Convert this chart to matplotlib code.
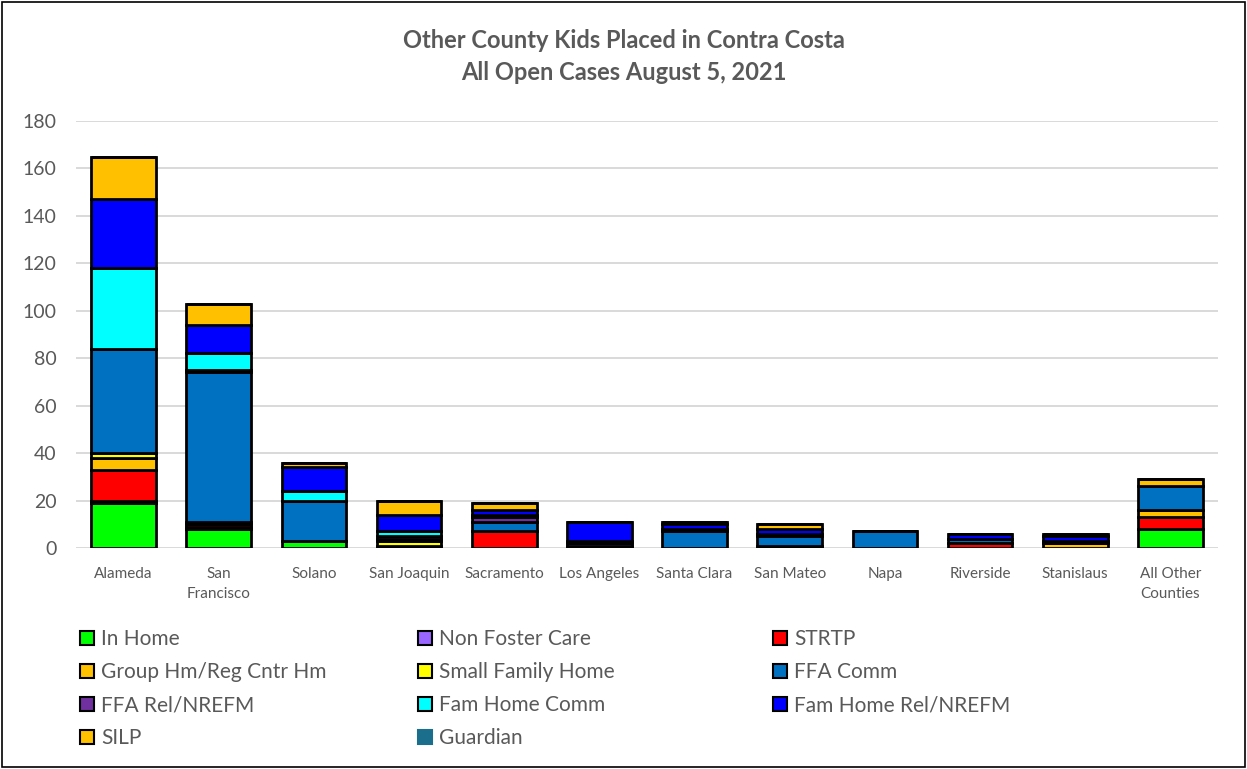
import numpy as np
import matplotlib
matplotlib.use("Agg")
import matplotlib.pyplot as plt
from matplotlib.patches import Rectangle, Patch

plt.rcParams["font.family"] = ["Lato", "DejaVu Sans"]

counties = ["Alameda", "San\nFrancisco", "Solano", "San Joaquin", "Sacramento",
            "Los Angeles", "Santa Clara", "San Mateo", "Napa", "Riverside",
            "Stanislaus", "All Other\nCounties"]

# one list per placement type, values per county (left to right)
in_home        = [19,  8,  3, 0, 0, 1, 0, 0, 0, 0, 0, 8]
non_foster     = [ 1,  1,  0, 0, 0, 1, 0, 1, 0, 0, 0, 0]
strtp          = [13,  1,  0, 1, 7, 0, 0, 0, 0, 2, 0, 5]
group_hm       = [ 5,  0,  0, 0, 0, 0, 0, 0, 0, 0, 2, 3]
small_family   = [ 2,  1,  0, 2, 0, 0, 0, 0, 0, 0, 0, 0]
ffa_comm       = [44, 63, 17, 1, 4, 0, 7, 4, 7, 2, 0, 10]
ffa_rel        = [ 0,  1,  0, 1, 2, 1, 1, 1, 0, 0, 1, 0]
fam_home_comm  = [34,  7,  4, 2, 1, 0, 0, 0, 0, 0, 0, 0]
fam_home_rel   = [29, 12, 10, 7, 2, 8, 2, 2, 0, 2, 2, 0]
silp           = [18,  9,  2, 6, 3, 0, 1, 2, 0, 0, 1, 3]
guardian       = [ 0,  0,  0, 0, 0, 0, 0, 0, 0, 0, 0, 0]

series_names = ["In Home", "Non Foster Care", "STRTP", "Group Hm/Reg Cntr Hm",
                "Small Family Home", "FFA Comm", "FFA Rel/NREFM", "Fam Home Comm",
                "Fam Home Rel/NREFM", "SILP", "Guardian"]
series_values = [in_home, non_foster, strtp, group_hm, small_family, ffa_comm,
                 ffa_rel, fam_home_comm, fam_home_rel, silp, guardian]
series_colors = ["#00FF00", "#9966FF", "#FF0000", "#FFC000", "#FFFF00", "#0070C0",
                 "#7030A0", "#00FFFF", "#0000FF", "#FFC000", "#1B6E8C"]

TXT = "#595959"

fig = plt.figure(figsize=(12.47, 7.69), dpi=100)
ax = fig.add_axes([76 / 1247, 1 - 548 / 769, (1218 - 76) / 1247, (548 - 121) / 769])

x = np.arange(len(counties))
bottom = np.zeros(len(counties))
for name, vals, col in zip(series_names, series_values, series_colors):
    v = np.array(vals, dtype=float)
    ax.bar(x, v, 0.68, bottom=bottom, color=col, edgecolor="black",
           linewidth=2.0, zorder=3)
    bottom += v

ax.set_xlim(-0.5, len(counties) - 0.5)
ax.set_ylim(0, 180)
ax.set_yticks(np.arange(0, 181, 20))
ax.yaxis.grid(True, color="#D9D9D9", linewidth=1.4, zorder=0)
ax.set_axisbelow(True)
for s in ax.spines.values():
    s.set_visible(False)
ax.tick_params(axis="both", length=0, colors=TXT)
ax.tick_params(axis="y", labelsize=14, pad=14)
ax.tick_params(axis="x", labelsize=11, pad=14)
ax.set_xticks(x)
ax.set_xticklabels(counties, linespacing=1.55)

fig.text(0.5, 1 - 41 / 769, "Other County Kids Placed in Contra Costa",
         ha="center", va="center", fontsize=17, fontweight="bold", color=TXT)
fig.text(0.5, 1 - 72 / 769, "All Open Cases August 5, 2021",
         ha="center", va="center", fontsize=17, fontweight="bold", color=TXT)

# legend laid out row by row in three columns, like the original
handles = []
for name, col in zip(series_names, series_colors):
    ec = col if name == "Guardian" else "black"
    handles.append(Patch(facecolor=col, edgecolor=ec, linewidth=1.5, label=name))
col_x = [70, 408, 763]
for c in range(3):
    idx = list(range(c, len(handles), 3))
    leg = fig.legend([handles[i] for i in idx], [series_names[i] for i in idx],
                     loc="upper left", bbox_to_anchor=(col_x[c] / 1247, 1 - 619 / 769),
                     frameon=False, fontsize=15, handlelength=0.65, handleheight=0.65,
                     handletextpad=0.35, labelspacing=0.62, borderpad=0,
                     labelcolor=TXT)

fig.patches.append(Rectangle((0.0015, 0.0025), 0.997, 0.995, transform=fig.transFigure,
                             fill=False, edgecolor="black", linewidth=1.2))

fig.savefig("out.png", dpi=100)
